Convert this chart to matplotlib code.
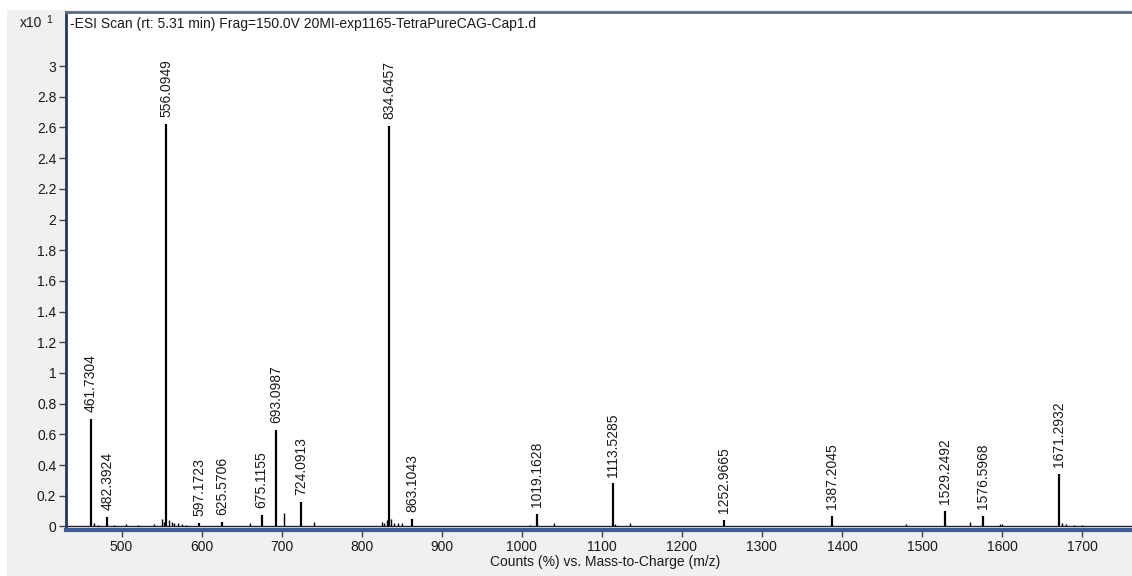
import matplotlib
matplotlib.use("Agg")
import matplotlib.pyplot as plt
from matplotlib.patches import Rectangle

plt.rcParams['font.family'] = ['Liberation Sans', 'DejaVu Sans']

# Labelled centroid peaks: m/z and relative counts (x10^1 %)
labeled_mz = [461.7304, 482.3924, 556.0949, 597.1723, 625.5706, 675.1155,
              693.0987, 724.0913, 834.6457, 863.1043, 1019.1628, 1113.5285,
              1252.9665, 1387.2045, 1529.2492, 1576.5968, 1671.2932]
labeled_counts = [0.70, 0.06, 2.62, 0.025, 0.03, 0.075,
                  0.63, 0.16, 2.61, 0.047, 0.08, 0.28,
                  0.04, 0.07, 0.10, 0.07, 0.34]

# Minor unlabelled peaks
minor_mz = [465, 470, 490, 505, 520, 540, 550, 553, 559, 563, 566, 570, 575,
            580, 660, 703, 740, 825, 828, 832, 837, 840, 845, 850, 1010, 1040,
            1116, 1135, 1480, 1560, 1597, 1600, 1675, 1680, 1690, 1700]
minor_counts = [0.02, 0.01, 0.01, 0.015, 0.012, 0.015, 0.05, 0.03, 0.04, 0.03,
                0.025, 0.02, 0.015, 0.012, 0.02, 0.086, 0.03, 0.03, 0.025, 0.04,
                0.05, 0.02, 0.02, 0.02, 0.01, 0.02, 0.015, 0.02, 0.015, 0.03,
                0.015, 0.015, 0.02, 0.015, 0.012, 0.01]

x_ticks = [500, 600, 700, 800, 900, 1000, 1100, 1200, 1300, 1400, 1500, 1600, 1700]
y_ticks = [0, 0.2, 0.4, 0.6, 0.8, 1, 1.2, 1.4, 1.6, 1.8, 2, 2.2, 2.4, 2.6, 2.8, 3]
y_tick_labels = ['0', '0.2', '0.4', '0.6', '0.8', '1', '1.2', '1.4', '1.6', '1.8',
                 '2', '2.2', '2.4', '2.6', '2.8', '3']

title = "-ESI Scan (rt: 5.31 min) Frag=150.0V 20MI-exp1165-TetraPureCAG-Cap1.d"
xlabel = "Counts (%) vs. Mass-to-Charge (m/z)"

W, H = 1132, 576
fig = plt.figure(figsize=(W / 100, H / 100), dpi=100)
fig.patch.set_facecolor('white')
# grey window background with a thin white margin on top/left
fig.patches.append(Rectangle((7 / W, 0), 1, 1 - 10 / H, transform=fig.transFigure,
                             facecolor='#f0f0f0', edgecolor='none', zorder=-10))

ax = fig.add_axes([66 / W, 1 - 530 / H, 1 - 66 / W + 0.01, (530 - 12) / H])
ax.set_facecolor('white')

ax.vlines(minor_mz, 0, minor_counts, color='black', lw=1.0)
ax.vlines(labeled_mz, 0, labeled_counts, color='black', lw=1.6)
ax.axhline(0, color='#222222', lw=1.0, zorder=1)

for mz, c in zip(labeled_mz, labeled_counts):
    ax.annotate(f"{mz:.4f}", xy=(mz, c), xytext=(0, 5), textcoords='offset points',
                rotation=90, ha='center', va='bottom', fontsize=10, color='#1a1a1a',
                bbox=dict(boxstyle='square,pad=0.1', facecolor='white', edgecolor='none'))

ax.set_xlim(430.6, 1776.5)
ax.set_ylim(-0.023, 3.352)
ax.set_xticks(x_ticks)
ax.set_xticklabels([str(t) for t in x_ticks])
ax.set_yticks(y_ticks)
ax.set_yticklabels(y_tick_labels)
ax.tick_params(axis='both', direction='out', length=5, width=1, color='#444444',
               labelsize=10, labelcolor='#1a1a1a', pad=2)

for s in ['right']:
    ax.spines[s].set_visible(False)
ax.spines['left'].set_color('#1f3a66')
ax.spines['left'].set_linewidth(2)
ax.spines['top'].set_color('#5b6b82')
ax.spines['top'].set_linewidth(2)
ax.spines['bottom'].set_color('#3a5b94')
ax.spines['bottom'].set_linewidth(3)

ax.set_xlabel(xlabel, fontsize=10, color='#1a1a1a', labelpad=1)

ax.text(4 / (W - 66), 1 - 12 / (530 - 12), title, transform=ax.transAxes,
        ha='left', va='center', fontsize=10, color='#1a1a1a')
fig.text(20 / W, 1 - 23 / H, "x10", ha='left', va='center', fontsize=10, color='#1a1a1a')
fig.text(46 / W, 1 - 20 / H, "1", ha='left', va='center', fontsize=7.5, color='#1a1a1a')

fig.savefig("out.png", dpi=100, facecolor=fig.get_facecolor())
